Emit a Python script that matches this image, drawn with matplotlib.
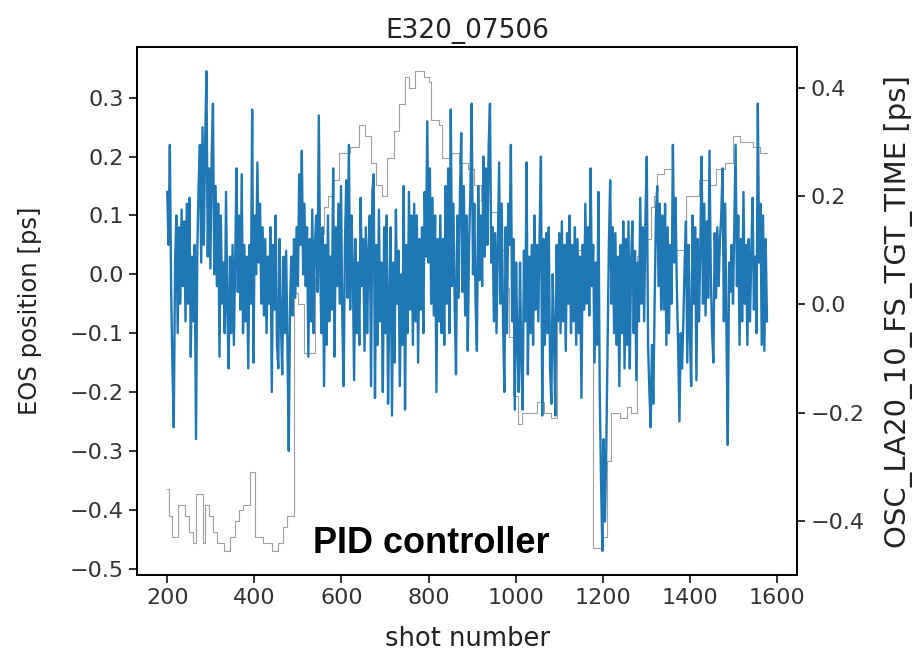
import numpy as np
import matplotlib
matplotlib.use("Agg")
import matplotlib.pyplot as plt

# EOS position, one value every 3 shots, 10 per row = 30 shots
shot_start, shot_step = 200, 3
eos = [
    0.14, 0.05, 0.22, -0.03, -0.16, -0.26, 0.02, 0.10, -0.10, 0.08,
    -0.05, 0.11, -0.02, 0.09, -0.08, 0.12, -0.05, 0.13, -0.14, 0.03,
    -0.08, 0.05, -0.28, 0.04, 0.15, 0.22, 0.02, 0.25, 0.05, 0.22,
    0.345, 0.03, 0.18, 0.01, 0.20, 0.29, 0.00, 0.15, -0.02, 0.12,
    -0.14, 0.10, -0.05, 0.02, -0.10, 0.14, -0.06, -0.16, 0.03, -0.10,
    0.05, -0.12, 0.02, 0.18, -0.03, 0.10, -0.06, 0.17, -0.10, 0.05,
    -0.08, 0.03, -0.16, 0.05, -0.05, 0.28, -0.15, 0.10, 0.00, 0.19,
    0.02, 0.12, -0.05, 0.08, -0.07, 0.06, -0.10, 0.03, -0.05, 0.08,
    -0.20, 0.05, -0.06, 0.10, -0.12, -0.16, 0.06, -0.08, -0.17, 0.03,
    -0.10, 0.04, -0.12, -0.30, -0.05, 0.03, -0.07, 0.06, -0.04, 0.08,
    -0.02, 0.17, 0.05, 0.21, 0.00, 0.12, -0.02, 0.08, -0.14, 0.06,
    -0.08, 0.11, -0.10, 0.05, 0.10, -0.03, 0.27, 0.02, -0.10, 0.08,
    -0.19, 0.05, -0.12, 0.10, -0.08, 0.03, -0.06, 0.18, -0.14, 0.08,
    -0.02, 0.12, -0.05, 0.15, -0.08, -0.19, 0.05, 0.16, -0.04, 0.22,
    -0.06, 0.10, 0.02, -0.18, 0.06, -0.10, 0.02, -0.12, 0.13, -0.02,
    0.06, -0.13, 0.08, -0.10, 0.04, 0.10, -0.19, 0.14, 0.17, -0.21,
    0.05, -0.12, 0.11, -0.08, 0.02, -0.20, 0.08, -0.10, 0.10, -0.22,
    -0.05, 0.08, -0.24, 0.02, -0.15, 0.11, -0.05, 0.04, -0.19, 0.00,
    -0.12, 0.15, -0.23, 0.05, -0.10, 0.14, -0.06, 0.10, -0.12, 0.12,
    -0.08, 0.10, -0.15, 0.06, -0.06, 0.08, -0.10, 0.14, 0.03, 0.26,
    0.02, 0.18, -0.05, 0.13, -0.07, 0.10, -0.20, 0.06, -0.08, 0.10,
    -0.10, 0.06, -0.12, 0.15, -0.05, 0.18, -0.10, 0.28, -0.02, 0.12,
    -0.05, -0.17, 0.10, -0.04, 0.13, 0.24, -0.03, 0.15, -0.07, 0.10,
    -0.13, 0.05, 0.14, 0.29, 0.00, 0.12, -0.05, -0.13, 0.15, -0.01,
    0.10, -0.02, 0.20, 0.03, 0.18, 0.05, 0.22, 0.29, 0.02, 0.08,
    -0.08, 0.07, -0.10, 0.05, 0.19, -0.05, 0.12, -0.08, -0.20, 0.08,
    -0.10, 0.12, 0.05, 0.22, -0.08, 0.06, -0.23, 0.02, -0.12, -0.20,
    0.02, -0.15, -0.23, 0.04, -0.08, 0.19, -0.17, 0.03, -0.10, 0.05,
    -0.12, 0.10, -0.06, 0.05, -0.08, 0.07, 0.20, -0.24, 0.06, -0.12,
    0.07, -0.10, 0.08, -0.16, -0.22, 0.00, -0.10, -0.24, 0.05, -0.08,
    0.07, -0.10, 0.09, -0.08, 0.05, -0.13, 0.07, -0.05, 0.10, -0.10,
    0.05, -0.08, 0.08, -0.12, 0.06, -0.10, 0.03, -0.21, 0.05, -0.06,
    0.12, -0.05, 0.08, -0.07, 0.18, -0.02, 0.05, -0.15, 0.02, -0.12,
    0.14, -0.20, -0.35, -0.47, -0.28, -0.42, -0.30, -0.12, 0.05, 0.16,
    -0.05, 0.08, -0.10, 0.07, -0.12, 0.03, -0.19, 0.05, -0.10, 0.09,
    -0.16, 0.06, -0.12, 0.09, -0.16, 0.02, 0.09, -0.10, 0.04, -0.18,
    0.02, -0.08, 0.13, -0.05, 0.08, -0.08, 0.10, 0.20, -0.12, -0.20,
    -0.26, -0.12, -0.22, -0.05, 0.10, 0.15, -0.02, 0.12, -0.06, 0.10,
    -0.06, 0.12, -0.12, 0.08, -0.10, 0.05, -0.05, 0.22, 0.02, 0.13,
    -0.02, -0.12, -0.25, -0.10, -0.16, -0.08, 0.02, 0.09, -0.15, 0.05,
    -0.10, -0.19, 0.10, -0.05, 0.08, -0.18, 0.06, -0.08, 0.05, 0.20,
    -0.05, 0.12, -0.07, 0.09, -0.04, 0.21, 0.00, -0.10, -0.15, 0.07,
    -0.04, 0.08, -0.02, 0.06, 0.10, 0.18, -0.08, 0.12, -0.10, -0.29,
    0.02, -0.03, 0.05, -0.05, 0.08, 0.22, -0.02, 0.10, -0.12, 0.06,
    -0.08, 0.14, -0.05, 0.05, -0.12, 0.06, -0.08, 0.04, 0.13, -0.06,
    0.03, -0.10, 0.29, 0.02, 0.12, -0.12, 0.10, -0.13, 0.06, -0.08,
]
shots = shot_start + shot_step * np.arange(len(eos))

# OSC_LA20_10_FS_TGT_TIME set point (steps)
tgt_shot = [200, 205, 212, 225, 240, 250, 260, 267, 282, 287, 295, 305, 315, 330,
            345, 355, 365, 375, 390, 402, 420, 440, 455, 465, 475, 490, 500, 515,
            540, 550, 560, 570, 580, 595, 620, 640, 655, 668, 680, 692, 705, 720,
            732, 745, 755, 768, 790, 800, 805, 825, 830, 850, 870, 890, 905, 920,
            940, 958, 965, 975, 985, 995, 1005, 1015, 1050, 1065, 1080, 1095, 1120,
            1150, 1177, 1200, 1210, 1220, 1240, 1255, 1265, 1278, 1290, 1310, 1318,
            1325, 1340, 1358, 1390, 1420, 1447, 1460, 1480, 1500, 1515, 1545, 1560,
            1577]
tgt_val = [-0.34, -0.39, -0.43, -0.37, -0.39, -0.42, -0.44, -0.35, -0.44, -0.37,
           -0.39, -0.42, -0.44, -0.455, -0.43, -0.40, -0.38, -0.37, -0.31, -0.43,
           -0.44, -0.455, -0.44, -0.41, -0.39, 0.02, 0.00, -0.09, 0.05, 0.13,
           0.18, 0.20, 0.23, 0.28, 0.29, 0.33, 0.31, 0.26, 0.22, 0.20,
           0.27, 0.32, 0.37, 0.42, 0.40, 0.43, 0.42, 0.41, 0.34, 0.33,
           0.27, 0.28, 0.26, 0.25, 0.22, 0.19, 0.17, 0.14, 0.10, 0.03,
           -0.06, -0.17, -0.22, -0.20, -0.18, -0.20, -0.21, 0.08, 0.10, 0.11,
           -0.45, -0.43, -0.29, -0.20, -0.21, -0.19, -0.20, 0.09, 0.12, 0.18,
           0.20, 0.24, 0.25, 0.10, 0.20, 0.23, 0.22, 0.25, 0.26, 0.31,
           0.30, 0.29, 0.28, 0.28]

plt.rcParams['font.size'] = 17
plt.rcParams['axes.linewidth'] = 1.4
for a in ('xtick', 'ytick'):
    plt.rcParams[a + '.major.size'] = 6
    plt.rcParams[a + '.major.width'] = 1.4
    plt.rcParams[a + '.labelsize'] = 16
    plt.rcParams[a + '.color'] = '#333333'

fig = plt.figure(figsize=(9.15, 6.57), dpi=100)
ax = fig.add_axes([0.150, 0.125, 0.721, 0.803])
ax2 = ax.twinx()
ax2.step(tgt_shot, tgt_val, where='post', color='#a0a0a0', lw=0.8)
ax.plot(shots, eos, color='#1f77b4', lw=1.7)
ax.set_zorder(ax2.get_zorder() + 1)
ax.patch.set_visible(False)

ax.set_xticks(range(200, 1601, 200))
ax.set_yticks(np.arange(-0.5, 0.31, 0.1))
ax2.set_yticks([-0.4, -0.2, 0.0, 0.2, 0.4])
ax.set_xlabel("shot number", fontsize=18.5, labelpad=13, color='#222222')
ax.set_ylabel("EOS position [ps]", fontsize=17.5, labelpad=20, color='#222222')
ax2.set_ylabel("OSC_LA20_10_FS_TGT_TIME [ps]", fontsize=21, labelpad=14, color='#222222')
ax.set_title("E320_07506", fontsize=19, pad=7, color='#222222')

ax.text(0.445, 0.06, "PID controller", transform=ax.transAxes, ha='center', va='center',
        fontsize=26, fontweight='bold', family=['Liberation Sans', 'DejaVu Sans'])

fig.savefig("out.png", dpi=100)
